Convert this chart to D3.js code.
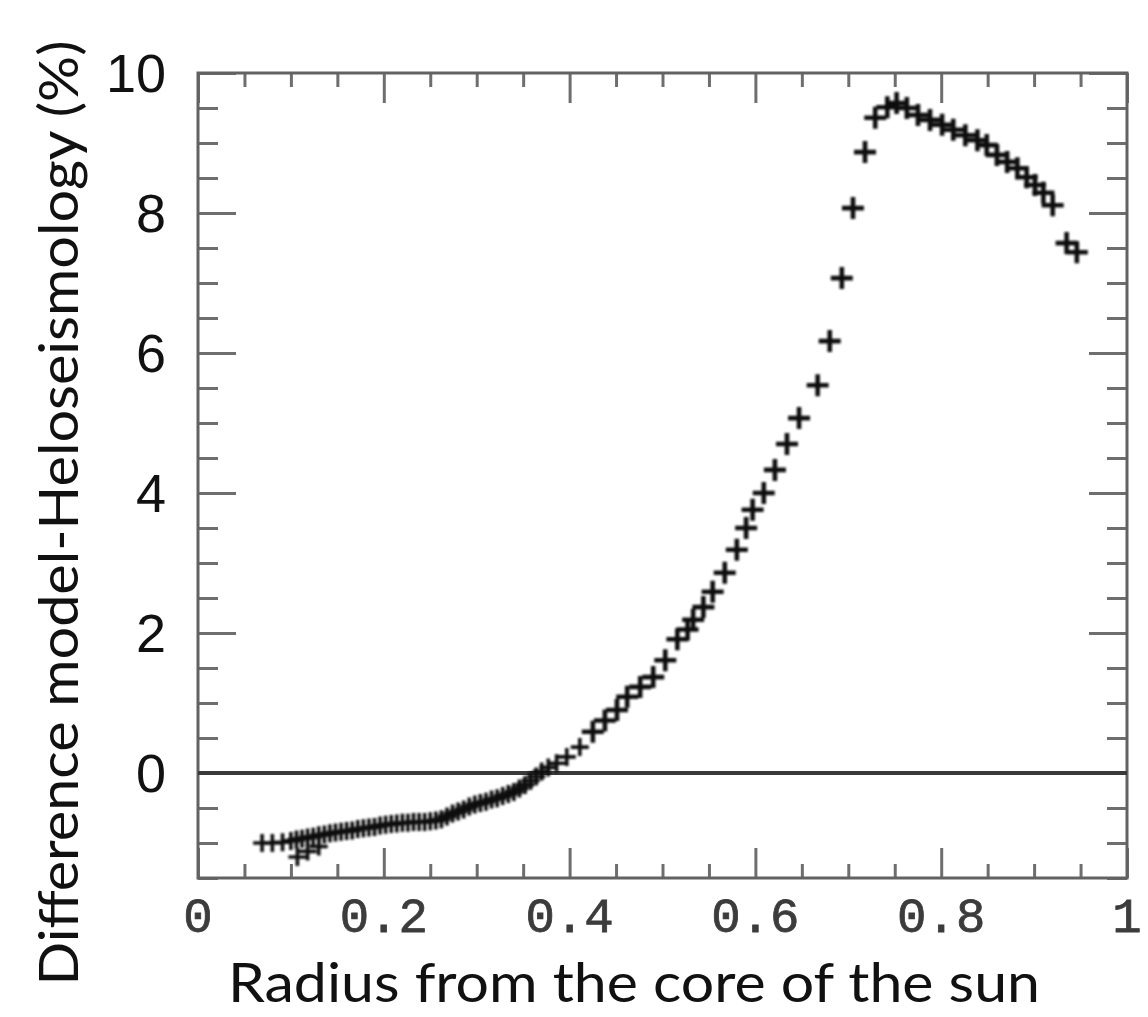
<!DOCTYPE html>
<html><head><meta charset="utf-8">
<script src="https://cdn.jsdelivr.net/npm/d3@7"></script>
<style>html,body{margin:0;padding:0;background:#fff;}</style>
</head><body>
<svg id="chart" width="1148" height="1017"></svg>
<script>
// ---- data ----
const radius = [
  0.069,0.080,0.091,0.100,0.106,0.112,0.118,0.124,0.130,0.136,0.142,0.148,0.154,0.160,0.166,0.172,0.178,0.184,0.190,0.196,
  0.202,0.208,0.214,0.220,0.226,0.232,0.238,0.244,0.250,0.256,0.262,0.268,0.274,0.280,0.286,0.292,0.298,0.304,0.310,0.316,
  0.322,0.328,0.334,0.340,0.346,0.352,0.358,0.364,0.370,0.377,
  0.386,0.397,0.411,0.425,0.438,0.451,0.462,0.476,0.490,0.503,0.516,0.527,0.533,0.544,0.554,0.567,0.580,0.590,0.597,0.609,
  0.621,0.634,0.647,0.667,0.680,0.693,0.705,0.718,0.729,0.742,0.752,0.763,0.775,0.788,0.801,0.813,0.826,0.839,0.849,0.860,
  0.871,0.882,0.892,0.901,0.910,0.920,0.935,0.946,
  0.107,0.118,0.130
];
const difference = [
  -1.00,-1.00,-0.99,-0.97,-0.95,-0.94,-0.92,-0.91,-0.89,-0.88,-0.86,-0.85,-0.84,-0.83,-0.82,-0.80,-0.79,-0.78,-0.77,-0.75,
  -0.74,-0.73,-0.72,-0.71,-0.71,-0.70,-0.70,-0.70,-0.69,-0.68,-0.66,-0.62,-0.58,-0.55,-0.52,-0.48,-0.45,-0.43,-0.41,-0.38,
  -0.36,-0.33,-0.30,-0.27,-0.22,-0.17,-0.11,-0.05,0.02,0.08,
  0.14,0.23,0.37,0.59,0.75,0.90,1.09,1.23,1.37,1.61,1.91,2.05,2.19,2.37,2.59,2.86,3.19,3.50,3.76,4.00,
  4.33,4.70,5.07,5.54,6.17,7.07,8.07,8.87,9.36,9.51,9.57,9.50,9.40,9.33,9.26,9.19,9.11,9.04,8.97,8.83,
  8.73,8.64,8.51,8.40,8.29,8.11,7.57,7.44,
  -1.20,-1.12,-1.05
];
const yTickLabels = [0, 2, 4, 6, 8, 10];
const xTickLabels = ["0", "0.2", "0.4", "0.6", "0.8", "1"];
const xTickValues = [0, 0.2, 0.4, 0.6, 0.8, 1];
const xTitle = "Radius from the core of the sun";
const yTitle = "Difference model-Heloseismology (%)";

// ---- layout ----
const svg = d3.select("#chart");
const L = 198, R = 1127, T = 73, B = 878;
const x = d3.scaleLinear().domain([0, 1]).range([L, R]);
const y = d3.scaleLinear().domain([-1.5, 10]).range([B, T]);

svg.append("rect").attr("width", 1148).attr("height", 1017).attr("fill", "#fff");

const defs = svg.append("defs");
defs.append("filter").attr("id", "soft").attr("x", "-20%").attr("y", "-20%").attr("width", "140%").attr("height", "140%")
  .append("feGaussianBlur").attr("stdDeviation", 0.8);

const tickColor = "#6e6e6e";
const xMinor = d3.range(0, 1.0001, 0.05);
const yMinor = d3.range(-1.5, 10.0001, 0.5);
const isMajorX = v => Math.abs(v * 5 - Math.round(v * 5)) < 1e-6;
const isMajorY = v => Math.abs(v / 2 - Math.round(v / 2)) < 1e-6;

function xAxisTicks(pos, dir) {
  const g = svg.append("g").attr("transform", `translate(0,${pos})`);
  const minorVals = xMinor.filter(v => !isMajorX(v));
  const majorVals = xMinor.filter(v => isMajorX(v));
  const axMin = (dir > 0 ? d3.axisBottom(x) : d3.axisTop(x)).tickValues(minorVals).tickSize(-14).tickFormat("");
  const axMaj = (dir > 0 ? d3.axisBottom(x) : d3.axisTop(x)).tickValues(majorVals).tickSize(-30).tickFormat("");
  [axMin, axMaj].forEach(ax => {
    const gg = g.append("g").call(ax);
    gg.select(".domain").remove();
    gg.selectAll("line").attr("stroke", tickColor).attr("stroke-width", 3);
  });
}
xAxisTicks(B, 1);
xAxisTicks(T, -1);

function yAxisTicks(pos, side) {
  const g = svg.append("g").attr("transform", `translate(${pos},0)`);
  const minorVals = yMinor.filter(v => !isMajorY(v));
  const majorVals = yMinor.filter(v => isMajorY(v));
  const axMin = (side < 0 ? d3.axisLeft(y) : d3.axisRight(y)).tickValues(minorVals).tickSize(-20).tickFormat("");
  const axMaj = (side < 0 ? d3.axisLeft(y) : d3.axisRight(y)).tickValues(majorVals).tickSize(-38).tickFormat("");
  [axMin, axMaj].forEach(ax => {
    const gg = g.append("g").call(ax);
    gg.select(".domain").remove();
    gg.selectAll("line").attr("stroke", tickColor).attr("stroke-width", 3);
  });
}
yAxisTicks(L, -1);
yAxisTicks(R, 1);

// frame
svg.append("rect").attr("x", L).attr("y", T).attr("width", R - L).attr("height", B - T)
  .attr("fill", "none").attr("stroke", "#626262").attr("stroke-width", 3);

// zero line
svg.append("line").attr("x1", x(0)).attr("x2", x(1)).attr("y1", y(0)).attr("y2", y(0))
  .attr("stroke", "#3a3a3a").attr("stroke-width", 4);

// markers
const pts = radius.map((r, i) => ({ r, d: difference[i] }));
svg.append("g").attr("filter", "url(#soft)").selectAll("path").data(pts).join("path")
  .attr("transform", p => `translate(${x(p.r)},${y(p.d)})`)
  .attr("d", p => p.d < 0.4 ? "M-9,0H9M0,-9V9" : "M-11,0H11M0,-11V11")
  .attr("fill", "none").attr("stroke", "#111").attr("stroke-width", p => p.d < 0.4 ? 3.6 : 4.6);

// y tick labels
svg.append("g").selectAll("text").data(yTickLabels).join("text")
  .attr("x", 166).attr("y", v => y(v)).attr("dy", "0.36em")
  .attr("text-anchor", "end")
  .attr("font-family", "Liberation Sans, Arial, sans-serif").attr("font-size", 54)
  .attr("fill", "#111").text(v => v);

// x tick labels
svg.append("g").selectAll("text").data(xTickValues).join("text")
  .attr("x", v => x(v)).attr("y", 932)
  .attr("text-anchor", "middle")
  .attr("font-family", "Liberation Mono, Courier New, monospace").attr("font-size", 49)
  .attr("fill", "#3c3c3c").attr("stroke", "#3c3c3c").attr("stroke-width", 0.8)
  .text((v, i) => xTickLabels[i]);

// axis titles
svg.append("text").attr("x", 634).attr("y", 1002).attr("text-anchor", "middle")
  .attr("font-family", "Lato, Open Sans, sans-serif").attr("font-size", 55)
  .attr("fill", "#111").attr("textLength", 812).attr("lengthAdjust", "spacingAndGlyphs")
  .text(xTitle);

svg.append("text").attr("transform", "translate(78,513) rotate(-90)")
  .attr("text-anchor", "middle")
  .attr("font-family", "Lato, Open Sans, sans-serif").attr("font-size", 55)
  .attr("fill", "#111").attr("textLength", 945).attr("lengthAdjust", "spacingAndGlyphs")
  .text(yTitle);
</script>
</body></html>
